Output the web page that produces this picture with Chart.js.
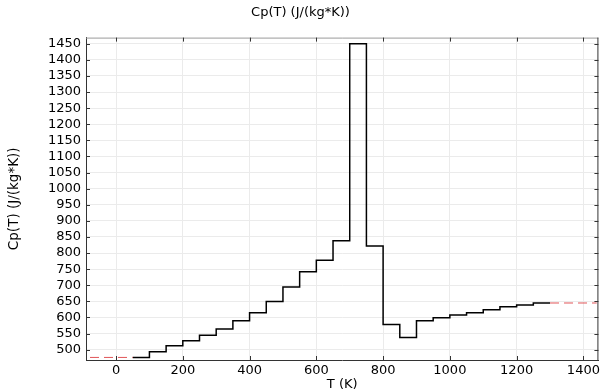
<!DOCTYPE html>
<html>
<head>
<meta charset="utf-8">
<script src="https://cdn.jsdelivr.net/npm/chart.js@4"></script>
<style>
  html, body { margin: 0; padding: 0; background: #fff; }
  #c { display: block; }
</style>
</head>
<body>
<canvas id="c" width="603" height="392"></canvas>
<script>
// ----------------------
// DATA
// ----------------------
const tBreaks = [50, 100, 150, 200, 250, 300, 350, 400, 450, 500, 550, 600, 650,
                 700, 750, 800, 850, 900, 950, 1000, 1050, 1100, 1150, 1200, 1250, 1300];
// value on each interval [tBreaks[i], tBreaks[i+1]]
const cpValues = [476, 494, 512, 528, 545, 564, 590, 615, 650, 695, 742, 778, 838,
                  1450, 822, 578, 538, 590, 599, 608, 615, 624, 633, 639, 645];
const extraLeftT = [-78, 50];
const extraLeftCp = [476, 476];
const extraRightT = [1300, 1440];
const extraRightCp = [645, 645];
const xTicks = [0, 200, 400, 600, 800, 1000, 1200, 1400];
const yTicks = [500, 550, 600, 650, 700, 750, 800, 850, 900, 950, 1000, 1050, 1100,
                1150, 1200, 1250, 1300, 1350, 1400, 1450];

// each break starts its interval; last break repeats the final value
const stepPts = tBreaks.map((t, i) => ({ x: t, y: cpValues[Math.min(i, cpValues.length - 1)] }));
const leftPts = extraLeftT.map((t, i) => ({ x: t, y: extraLeftCp[i] }));
const rightPts = extraRightT.map((t, i) => ({ x: t, y: extraRightCp[i] }));

const FONT = "'DejaVu Sans', sans-serif";

// frame + inward tick marks, like the original plot box
const framePlugin = {
    id: "frame",
    afterDraw(chart) {
        const { ctx, chartArea: a, scales } = chart;
        ctx.save();
        ctx.lineWidth = 1;
        ctx.strokeStyle = "#9a9a9a";
        ctx.beginPath();
        ctx.moveTo(a.left, a.top + 0.5);
        ctx.lineTo(a.right, a.top + 0.5);
        ctx.stroke();
        ctx.strokeStyle = "#333";
        ctx.beginPath();
        ctx.moveTo(a.right - 0.5, a.top);
        ctx.lineTo(a.right - 0.5, a.bottom);
        ctx.stroke();
        ctx.beginPath();
        xTicks.forEach(v => {
            const x = Math.round(scales.x.getPixelForValue(v)) + 0.5;
            if (x > a.right) return;
            ctx.moveTo(x, a.bottom); ctx.lineTo(x, a.bottom - 4);
            ctx.moveTo(x, a.top); ctx.lineTo(x, a.top + 4);
        });
        yTicks.forEach(v => {
            const y = Math.round(scales.y.getPixelForValue(v)) + 0.5;
            ctx.moveTo(a.left, y); ctx.lineTo(a.left + 4, y);
            ctx.moveTo(a.right, y); ctx.lineTo(a.right - 4, y);
        });
        ctx.stroke();
        ctx.restore();
    }
};

new Chart(document.getElementById("c"), {
    type: "line",
    data: {
        datasets: [
            {
                data: leftPts,
                borderColor: "#e05558",
                borderWidth: 1,
                borderDash: [9, 5],
                pointRadius: 0
            },
            {
                data: rightPts,
                borderColor: "#e05558",
                borderWidth: 1,
                borderDash: [9, 5],
                pointRadius: 0
            },
            {
                data: stepPts,
                stepped: "before",
                borderColor: "#000",
                borderWidth: 1.5,
                pointRadius: 0
            }
        ]
    },
    options: {
        responsive: false,
        animation: false,
        layout: { padding: { left: 0, right: 2, top: 0, bottom: 0 } },
        plugins: {
            legend: { display: false },
            tooltip: { enabled: false },
            title: {
                display: true,
                text: "Cp(T) (J/(kg*K))",
                color: "#000",
                font: { family: FONT, size: 13, weight: "normal" },
                padding: { top: 5, bottom: 17 }
            }
        },
        scales: {
            x: {
                type: "linear",
                min: -90,
                max: 1445,
                afterBuildTicks: s => { s.ticks = xTicks.map(v => ({ value: v })); },
                afterFit: s => { s.height = 32; },
                grid: { color: "#ebebeb", drawTicks: false },
                border: { color: "#333", width: 1 },
                ticks: {
                    color: "#000",
                    font: { family: FONT, size: 13 },
                    padding: 3,
                    maxRotation: 0,
                    callback: v => String(v)
                },
                title: {
                    display: true,
                    text: "T (K)",
                    color: "#000",
                    font: { family: FONT, size: 13 },
                    padding: { top: -5, bottom: 0 }
                }
            },
            y: {
                type: "linear",
                min: 468,
                max: 1469,
                afterBuildTicks: s => { s.ticks = yTicks.map(v => ({ value: v })); },
                afterFit: s => { s.width = 86; },
                grid: { color: "#ebebeb", drawTicks: false },
                border: { color: "#333", width: 1 },
                ticks: {
                    color: "#000",
                    font: { family: FONT, size: 13 },
                    padding: 5,
                    autoSkip: false,
                    callback: v => String(v)
                },
                title: {
                    display: true,
                    text: "Cp(T) (J/(kg*K))",
                    color: "#000",
                    font: { family: FONT, size: 13.5 },
                    padding: { top: 6, bottom: 8 }
                }
            }
        }
    },
    plugins: [framePlugin]
});
</script>
</body>
</html>
